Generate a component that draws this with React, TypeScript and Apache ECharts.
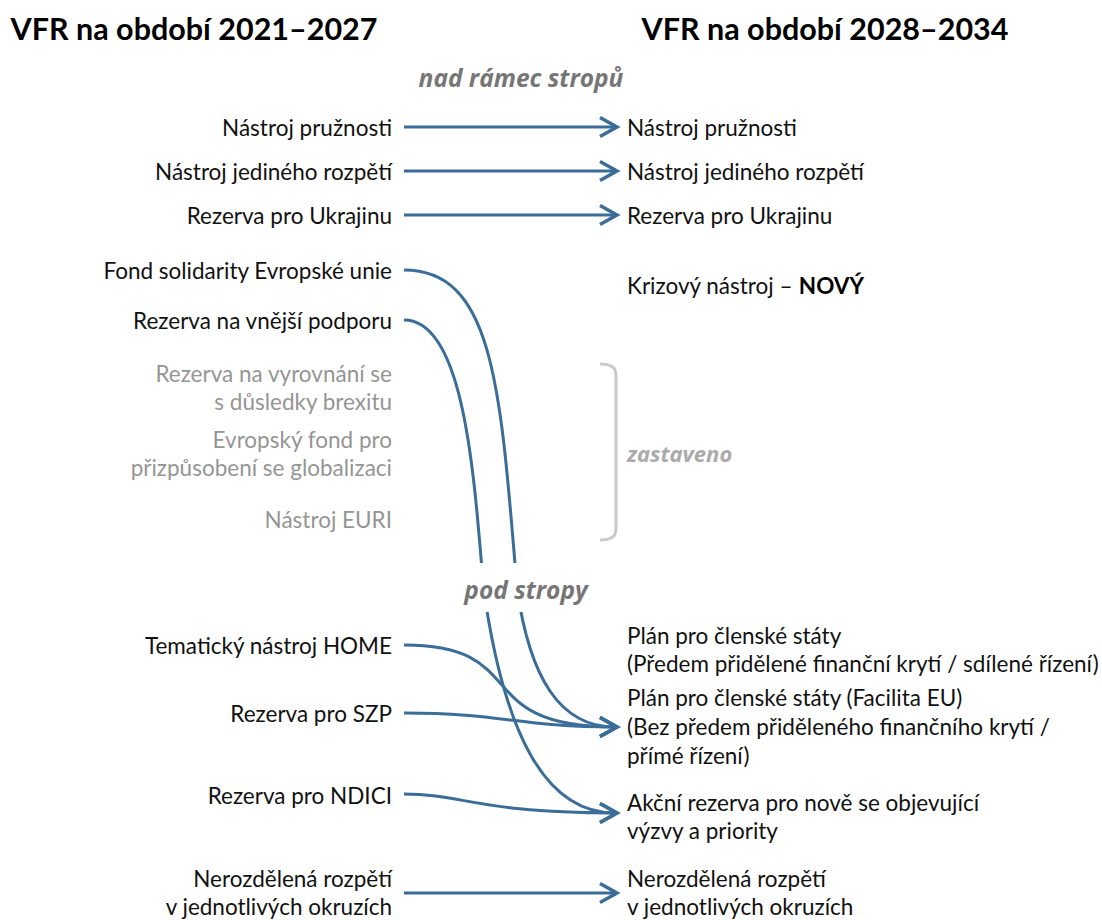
import React, { useEffect, useRef } from "react";
import * as echarts from "echarts";

// ---------- content ----------
const titles = ["VFR na období 2021–2027", "VFR na období 2028–2034"];
const sectionLabels = ["nad rámec stropů", "pod stropy"];
const discontinuedLabel = "zastaveno";

const leftLabels = [
  "Nástroj pružnosti",
  "Nástroj jediného rozpětí",
  "Rezerva pro Ukrajinu",
  "Fond solidarity Evropské unie",
  "Rezerva na vnější podporu",
  "Rezerva na vyrovnání se\ns důsledky brexitu",
  "Evropský fond pro\npřizpůsobení se globalizaci",
  "Nástroj EURI",
  "Tematický nástroj HOME",
  "Rezerva pro SZP",
  "Rezerva pro NDICI",
  "Nerozdělená rozpětí\nv jednotlivých okruzích",
];
const leftDiscontinued = [false, false, false, false, false, true, true, true, false, false, false, false];

const rightLabels = [
  "Nástroj pružnosti",
  "Nástroj jediného rozpětí",
  "Rezerva pro Ukrajinu",
  "Krizový nástroj – ",
  "Plán pro členské státy\n(Předem přidělené finanční krytí / sdílené řízení)",
  "Plán pro členské státy (Facilita EU)\n(Bez předem přiděleného finančního krytí /\npřímé řízení)",
  "Akční rezerva pro nově se objevující\nvýzvy a priority",
  "Nerozdělená rozpětí\nv jednotlivých okruzích",
];
const rightIsNew = [false, false, false, true, false, false, false, false];
const newMarker = "NOVÝ";

// [left item index, right item index]
const links: [number, number][] = [
  [0, 0],
  [1, 1],
  [2, 2],
  [3, 5],
  [4, 6],
  [8, 5],
  [9, 5],
  [10, 6],
  [11, 7],
];

// ---------- layout (pixel space of the hidden value axes) ----------
const W = 1102;
const H = 920;
const leftRowY = [127, 171, 215, 270, 320, 387, 453, 519, 645, 713, 795, 892];
const leftAnchorY = [127, 171, 215, 270, 320, 387, 453, 519, 645, 713, 794, 893];
const rightRowY = [127, 171, 215, 285, 649, 726, 816, 892];
const rightAnchorY = [127, 171, 215, 285, 649, 727, 813, 893];
const LEFT_TEXT_X = 392;
const RIGHT_TEXT_X = 627;
const LINE_START = 404;
const ARROW_TIP = 617;
const GAP_Y = 588;
// route shape per link: either handle lengths [a, b] or a lane x through the gap
const linkRoutes: any[] = [
  null,
  null,
  null,
  { lane: 517, slope: 0.14, k1: 118, a: 90, k2: 90, b: 57 },
  { lane: 483.5, slope: 0.14, k1: 68, a: 60, k2: 150, b: 70 },
  { a: 130, b: 150 },
  { a: 100, b: 100 },
  { a: 60, b: 140 },
  null,
];

const BLUE = "#3b6d99";
const FONT = 'Lato, "Noto Sans", sans-serif';
const ITALIC_FONT = '"Open Sans", Lato, sans-serif';
const BODY_SIZE = 22.5;

export default function App() {
  const ref = useRef<HTMLDivElement>(null);

  useEffect(() => {
    document.body.style.margin = "0";
    const chart = echarts.init(ref.current!, null, { renderer: "svg" });

    const stroke = { stroke: BLUE, lineWidth: 3, fill: "none" };

    const linkSeries = {
      type: "custom",
      coordinateSystem: "cartesian2d",
      silent: true,
      data: links.map(([l]) => [LINE_START, leftAnchorY[l]]),
      renderItem: (params: any, api: any) => {
        const [li, ri] = links[params.dataIndex];
        const route = linkRoutes[params.dataIndex];
        const y0 = leftAnchorY[li];
        const y1 = rightAnchorY[ri];
        const p0 = api.coord([LINE_START, y0]);
        const p3 = api.coord([ARROW_TIP - 2, y1]);
        const tip = api.coord([ARROW_TIP, y1]);
        const children: any[] = [];
        if (!route) {
          children.push({
            type: "line",
            shape: { x1: p0[0], y1: p0[1], x2: p3[0], y2: p3[1] },
            style: stroke,
          });
        } else if (route.lane !== undefined) {
          const m = api.coord([route.lane, GAP_Y]);
          const c1 = api.coord([LINE_START + route.a, y0]);
          const c2 = api.coord([route.lane - route.slope * route.k1, GAP_Y - route.k1 * 1.7]);
          const c3 = api.coord([route.lane + route.slope * route.k2, GAP_Y + route.k2]);
          const c4 = api.coord([ARROW_TIP - route.b, y1]);
          children.push({
            type: "bezierCurve",
            shape: { x1: p0[0], y1: p0[1], cpx1: c1[0], cpy1: c1[1], cpx2: c2[0], cpy2: c2[1], x2: m[0], y2: m[1] },
            style: stroke,
          });
          children.push({
            type: "bezierCurve",
            shape: { x1: m[0], y1: m[1], cpx1: c3[0], cpy1: c3[1], cpx2: c4[0], cpy2: c4[1], x2: p3[0], y2: p3[1] },
            style: stroke,
          });
        } else {
          const c1 = api.coord([LINE_START + route.a, y0]);
          const c2 = api.coord([ARROW_TIP - route.b, y1]);
          children.push({
            type: "bezierCurve",
            shape: { x1: p0[0], y1: p0[1], cpx1: c1[0], cpy1: c1[1], cpx2: c2[0], cpy2: c2[1], x2: p3[0], y2: p3[1] },
            style: stroke,
          });
        }
        const a1 = api.coord([ARROW_TIP - 17, y1 - 9.5]);
        const a2 = api.coord([ARROW_TIP - 17, y1 + 9.5]);
        children.push({
          type: "polyline",
          shape: { points: [a1, tip, a2] },
          style: { stroke: BLUE, lineWidth: 3.5, fill: "none", lineJoin: "miter", lineCap: "butt" },
        });
        return { type: "group", children };
      },
      z: 2,
    };

    const leftSeries = {
      type: "custom",
      coordinateSystem: "cartesian2d",
      silent: true,
      data: leftLabels.map((_, i) => [LEFT_TEXT_X, leftRowY[i]]),
      renderItem: (params: any, api: any) => {
        const i = params.dataIndex;
        const p = api.coord([LEFT_TEXT_X, leftRowY[i]]);
        return {
          type: "text",
          x: p[0],
          y: p[1],
          style: {
            text: leftLabels[i],
            fill: leftDiscontinued[i] ? "#959595" : "#111111",
            fontFamily: FONT,
            fontSize: BODY_SIZE,
            lineHeight: 28,
            align: "right",
            verticalAlign: "middle",
          },
        };
      },
      z: 3,
    };

    const rightSeries = {
      type: "custom",
      coordinateSystem: "cartesian2d",
      silent: true,
      data: rightLabels.map((_, i) => [RIGHT_TEXT_X, rightRowY[i]]),
      renderItem: (params: any, api: any) => {
        const i = params.dataIndex;
        const p = api.coord([RIGHT_TEXT_X, rightRowY[i]]);
        const lines = rightLabels[i].split("\n").length;
        return {
          type: "text",
          x: p[0],
          y: p[1],
          style: {
            text: rightIsNew[i] ? `{n|${rightLabels[i]}}{b|${newMarker}}` : rightLabels[i],
            fill: "#111111",
            fontFamily: FONT,
            fontSize: BODY_SIZE,
            lineHeight: lines === 3 ? 29 : 28,
            align: "left",
            verticalAlign: "middle",
            rich: rightIsNew[i]
              ? {
                  n: { fontFamily: FONT, fontSize: BODY_SIZE, fill: "#111111" },
                  b: { fontFamily: FONT, fontSize: BODY_SIZE, fontWeight: "bold", fill: "#000000" },
                }
              : undefined,
          },
        };
      },
      z: 3,
    };

    const decorSeries = {
      type: "custom",
      coordinateSystem: "cartesian2d",
      silent: true,
      data: [[0, 0]],
      renderItem: (_params: any, api: any) => {
        const c = (x: number, y: number) => api.coord([x, y]);
        const t1 = c(194, 28);
        const t2 = c(825, 28);
        const s1 = c(521, 77);
        const s2 = c(526, 589);
        const z = c(627, 453);
        const r0 = c(455, 563);
        const r1 = c(597, 612);
        const bTop0 = c(600, 364);
        const bTop1 = c(616, 377);
        const bBot0 = c(616, 527);
        const bBot1 = c(600, 540);
        const bCp1 = c(616, 364);
        const bCp2 = c(616, 540);
        const gray = { stroke: "#c9c9c9", lineWidth: 3, fill: "none" };
        const titleStyle = { fontFamily: FONT, fontSize: 30.5, fontWeight: "bold", fill: "#000", align: "center", verticalAlign: "middle" };
        const secStyle = { fontFamily: ITALIC_FONT, fontSize: 24.5, fontWeight: "bold", fontStyle: "italic", fill: "#767676", align: "center", verticalAlign: "middle" };
        return {
          type: "group",
          children: [
            { type: "text", x: t1[0], y: t1[1], style: { ...titleStyle, text: titles[0] } },
            { type: "text", x: t2[0], y: t2[1], style: { ...titleStyle, text: titles[1] } },
            { type: "text", x: s1[0], y: s1[1], style: { ...secStyle, text: sectionLabels[0] } },
            {
              type: "rect",
              shape: { x: r0[0], y: r0[1], width: r1[0] - r0[0], height: r1[1] - r0[1] },
              style: { fill: "#ffffff" },
            },
            { type: "text", x: s2[0], y: s2[1], style: { ...secStyle, text: sectionLabels[1] } },
            {
              type: "text",
              x: z[0],
              y: z[1],
              style: { text: discontinuedLabel, fontFamily: ITALIC_FONT, fontSize: 22, fontWeight: "bold", fontStyle: "italic", fill: "#aaaaaa", align: "left", verticalAlign: "middle" },
            },
            {
              type: "bezierCurve",
              shape: { x1: bTop0[0], y1: bTop0[1], cpx1: bCp1[0], cpy1: bCp1[1], cpx2: bTop1[0], cpy2: bTop1[1] - 6, x2: bTop1[0], y2: bTop1[1] },
              style: gray,
            },
            {
              type: "line",
              shape: { x1: bTop1[0], y1: bTop1[1], x2: bBot0[0], y2: bBot0[1] },
              style: gray,
            },
            {
              type: "bezierCurve",
              shape: { x1: bBot0[0], y1: bBot0[1], cpx1: bBot0[0], cpy1: bBot0[1] + 6, cpx2: bCp2[0], cpy2: bCp2[1], x2: bBot1[0], y2: bBot1[1] },
              style: gray,
            },
          ],
        };
      },
      z: 4,
    };

    chart.setOption({
      animation: false,
      grid: { left: 0, right: 0, top: 0, bottom: 0 },
      xAxis: { type: "value", min: 0, max: W, show: false },
      yAxis: { type: "value", min: 0, max: H, inverse: true, show: false },
      series: [linkSeries, decorSeries, leftSeries, rightSeries],
    });

    return () => chart.dispose();
  }, []);

  return <div ref={ref} style={{ width: W, height: H, background: "#ffffff" }} />;
}
